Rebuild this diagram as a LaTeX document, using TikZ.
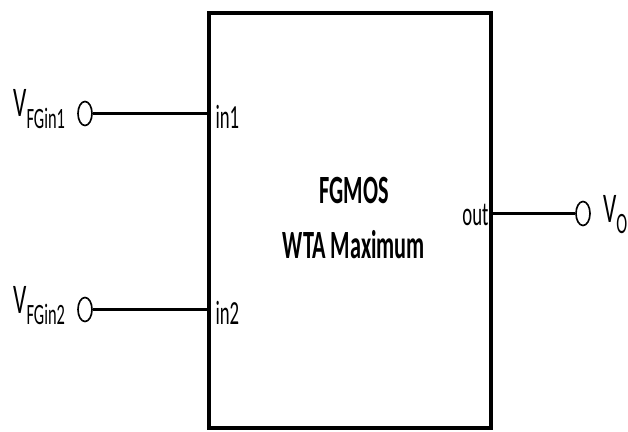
\documentclass[tikz,border=0pt]{standalone}
\usepackage{fontspec}
\usepackage{graphicx}
\setmainfont{Carlito}
\usetikzlibrary{positioning,calc,shapes.geometric}
\newcommand{\tall}[1]{\scalebox{1}[1.8]{#1}}
\newcommand{\lowsub}[1]{\raisebox{-5.3pt}{\fontsize{14}{14}\selectfont #1}}

\begin{document}
\begin{tikzpicture}[
  x=0.03cm,y=-0.03cm,
  wtabox/.style={draw,line width=2.8pt,minimum width=8.46cm,minimum height=12.45cm,inner sep=0pt},
  term/.style={ellipse,draw,line width=1.4pt,minimum width=0.42cm,minimum height=0.72cm,inner sep=0pt},
  wire/.style={line width=2pt},
  port/.style={font=\fontsize{16}{18}\selectfont,inner sep=0pt},
  sig/.style={font=\fontsize{20}{22}\selectfont,inner sep=0pt},
  title/.style={font=\fontsize{19}{47.6}\selectfont\bfseries,align=center}
]
\useasboundingbox (0,0) rectangle (628,432);
\node[wtabox] (wta) at (350,220.5) {};
\node[title] (name) at (354,218) {\tall{FGMOS}\\\tall{WTA Maximum}};
% terminals
\node[term] (tin1) at (85,113.5) {};
\node[term] (tin2) at (85,309.5) {};
\node[term] (tout) at (583,213.5) {};
\draw[wire] (tin1.east) -- (tin1 -| wta.west);
\draw[wire] (tin2.east) -- (tin2 -| wta.west);
\draw[wire] (tout -| wta.east) -- (tout.west);
% port names
\node[port,anchor=west] (pin1) at ($(tin1 -| wta.west)+(8,3)$) {\tall{in1}};
\node[port,anchor=west] (pin2) at ($(tin2 -| wta.west)+(8,3)$) {\tall{in2}};
\node[port,anchor=east] (pout) at ($(tout -| wta.east)+(-4,1)$) {\tall{out}};
% signal names
\node[sig,anchor=base east] (vin1) at ($(tin1.west)+(-12,3.5)$) {\tall{V\lowsub{FGin1}}};
\node[sig,anchor=base east] (vin2) at ($(tin2.west)+(-12,3.5)$) {\tall{V\lowsub{FGin2}}};
\node[sig,anchor=base west] (vout) at ($(tout.east)+(12,9)$) {\tall{V\lowsub{O}}};
\end{tikzpicture}
\end{document}
